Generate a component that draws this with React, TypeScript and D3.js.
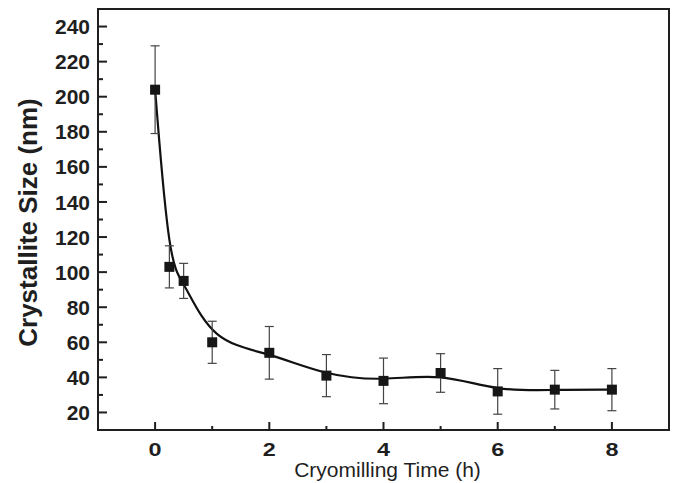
import React, { useEffect, useRef } from "react";
import * as d3 from "d3";

// cryomilling time (h)
const times = [0, 0.25, 0.5, 1, 2, 3, 4, 5, 6, 7, 8];
// crystallite size (nm)
const sizes = [204, 103, 95, 60, 54, 41, 38, 42.5, 32, 33, 33];
// error bar half widths (nm)
const errors = [25, 12, 10, 12, 15, 12, 13, 11, 13, 11, 12];

const yTicks = [20, 40, 60, 80, 100, 120, 140, 160, 180, 200, 220, 240];
const xTicks = [0, 2, 4, 6, 8];

const W = 676;
const H = 483;
const font = "'Liberation Sans', Arial, Helvetica, sans-serif";

const App = () => {
  const ref = useRef<SVGGElement>(null);

  useEffect(() => {
    const g = d3.select(ref.current);
    g.selectAll("*").remove();

    const x = d3.scaleLinear().domain([-1, 9]).range([98, 669]);
    const y = d3.scaleLinear().domain([10, 250]).range([430, 9]);

    const data = times.map((t, i) => ({ t, v: sizes[i], e: errors[i] }));

    // frame
    g.append("rect")
      .attr("x", x(-1))
      .attr("y", y(250))
      .attr("width", x(9) - x(-1))
      .attr("height", y(10) - y(250))
      .attr("fill", "none")
      .attr("stroke", "#1f1f1f")
      .attr("stroke-width", 2);

    // y ticks, inward
    const yAll = d3.range(20, 250, 10);
    g.selectAll("line.ytick")
      .data(yAll)
      .enter()
      .append("line")
      .attr("class", "ytick")
      .attr("x1", x(-1))
      .attr("x2", d => x(-1) + (d % 20 === 0 ? 9 : 5))
      .attr("y1", d => y(d))
      .attr("y2", d => y(d))
      .attr("stroke", "#1f1f1f")
      .attr("stroke-width", 2);

    g.selectAll("text.ylab")
      .data(yTicks)
      .enter()
      .append("text")
      .attr("class", "ylab")
      .attr("x", 90)
      .attr("y", d => y(d))
      .attr("dy", "0.36em")
      .attr("text-anchor", "end")
      .style("font-family", font)
      .style("font-weight", "bold")
      .style("font-size", "21px")
      .attr("fill", "#1f1f1f")
      .text(d => d);

    // x ticks, inward
    const xAll = d3.range(0, 9, 1);
    g.selectAll("line.xtick")
      .data(xAll)
      .enter()
      .append("line")
      .attr("class", "xtick")
      .attr("x1", d => x(d))
      .attr("x2", d => x(d))
      .attr("y1", y(10))
      .attr("y2", d => y(10) - (d % 2 === 0 ? 8 : 4))
      .attr("stroke", "#1f1f1f")
      .attr("stroke-width", 2);

    g.selectAll("text.xlab")
      .data(xTicks)
      .enter()
      .append("text")
      .attr("class", "xlab")
      .attr("transform", d => `translate(${x(d)},455.5) scale(1.3,1)`)
      .attr("text-anchor", "middle")
      .style("font-family", font)
      .style("font-weight", "bold")
      .style("font-size", "18px")
      .attr("fill", "#1f1f1f")
      .text(d => d);

    // axis titles
    g.append("text")
      .attr("x", (x(-1) + x(9)) / 2 + 4)
      .attr("y", 477)
      .attr("text-anchor", "middle")
      .style("font-family", font)
      .style("font-size", "21px")
      .attr("fill", "#1f1f1f")
      .text("Cryomilling Time (h)");

    g.append("text")
      .attr("transform", `translate(37,${(y(10) + y(250)) / 2 + 3}) rotate(-90)`)
      .attr("text-anchor", "middle")
      .style("font-family", font)
      .style("font-weight", "bold")
      .style("font-size", "26px")
      .attr("fill", "#1f1f1f")
      .text("Crystallite Size (nm)");

    // smoothed curve
    const line = d3
      .line<{ t: number; v: number }>()
      .x(d => x(d.t))
      .y(d => y(d.v))
      .curve(d3.curveBasis);

    g.append("path")
      .datum(data)
      .attr("d", line)
      .attr("fill", "none")
      .attr("stroke", "#111")
      .attr("stroke-width", 2.2);

    // error bars
    const eb = g.selectAll("g.err").data(data).enter().append("g").attr("class", "err");
    eb.append("line")
      .attr("x1", d => x(d.t))
      .attr("x2", d => x(d.t))
      .attr("y1", d => y(d.v + d.e))
      .attr("y2", d => y(d.v - d.e))
      .attr("stroke", "#444")
      .attr("stroke-width", 1.2);
    [1, -1].forEach(s => {
      eb.append("line")
        .attr("x1", d => x(d.t) - 4.5)
        .attr("x2", d => x(d.t) + 4.5)
        .attr("y1", d => y(d.v + s * d.e))
        .attr("y2", d => y(d.v + s * d.e))
        .attr("stroke", "#444")
        .attr("stroke-width", 1.2);
    });

    // markers
    g.selectAll("rect.pt")
      .data(data)
      .enter()
      .append("rect")
      .attr("class", "pt")
      .attr("x", d => x(d.t) - 5)
      .attr("y", d => y(d.v) - 5)
      .attr("width", 10)
      .attr("height", 10)
      .attr("fill", "#161616");
  }, []);

  return (
    <svg
      width={W}
      height={H}
      style={{ position: "fixed", left: 0, top: 0, background: "#fff" }}
    >
      <g ref={ref} />
    </svg>
  );
};

export default App;
